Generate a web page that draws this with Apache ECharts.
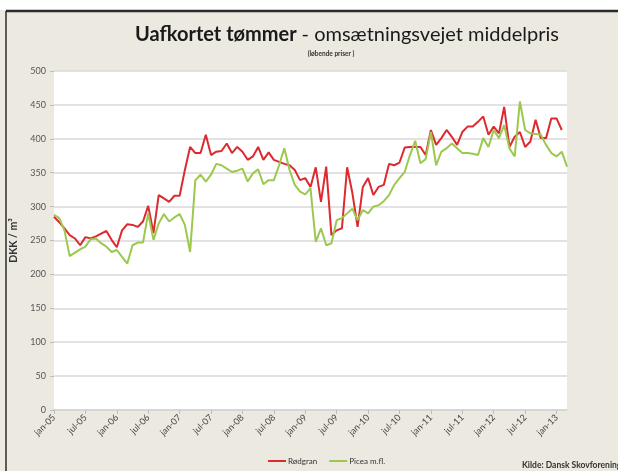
<!DOCTYPE html>
<html>
<head>
<meta charset="utf-8">
<script src="https://cdn.jsdelivr.net/npm/echarts@6/dist/echarts.min.js"></script>
<style>
  html, body { margin: 0; padding: 0; background: #ece9e0; }
  #chart { width: 618px; height: 471px; }
</style>
</head>
<body>
<div id="chart"></div>
<script>
// maanedlige priser, jan-05 .. mar-13
var years = ['05', '06', '07', '08', '09', '10', '11', '12', '13']
var monthNames = ['jan', 'feb', 'mar', 'apr', 'maj', 'jun', 'jul', 'aug', 'sep', 'okt', 'nov', 'dec']
var nMonths = 99

var months = []
for (var i = 0; i < nMonths; i++) {
    months.push(monthNames[i % 12] + '-' + years[Math.floor(i / 12)])
}

var rodgran = [
    285, 277, 268, 258, 253, 243, 255, 253, 256, 260, 264, 251,
    240, 265, 274, 273, 270, 278, 301, 261, 317, 312, 307, 316,
    316, 354, 388, 379, 379, 406, 376, 381, 382, 393, 379, 388,
    381, 369, 374, 388, 369, 380, 369, 366, 363, 361, 354, 339,
    342, 329, 358, 307, 359, 258, 265, 268, 358, 320, 270, 329,
    342, 317, 329, 332, 363, 361, 365, 387, 388, 388, 388, 376,
    413, 391, 401, 413, 403, 391, 410, 418, 418, 425, 433, 406,
    418, 408, 447, 388, 403, 410, 388, 396, 428, 401, 401, 430,
    430, 413, null
]

var picea = [
    288, 283, 265, 227, 232, 237, 241, 252, 253, 246, 241, 233,
    236, 226, 216, 243, 247, 247, 290, 251, 275, 289, 278, 284,
    289, 273, 233, 339, 347, 337, 347, 363, 361, 356, 351, 353,
    356, 337, 349, 355, 333, 339, 339, 361, 386, 354, 332, 322,
    318, 327, 248, 268, 243, 246, 280, 283, 290, 297, 280, 295,
    290, 300, 302, 308, 317, 332, 342, 351, 376, 397, 364, 370,
    410, 361, 381, 386, 393, 386, 379, 379, 378, 376, 401, 388,
    413, 401, 420, 386, 374, 455, 413, 408, 407, 406, 391, 379,
    374, 381, 359
]

var chart = echarts.init(document.getElementById('chart'))
chart.setOption({
    backgroundColor: '#ece9e0',
    color: ['#dc2a30', '#9cc84e'],
    animation: false,
    title: [
        {
            text: '{b|Uafkortet tømmer} {n|- omsætningsvejet middelpris}',
            left: 342,
            textAlign: 'center',
            top: 20,
            textStyle: {
                rich: {
                    b: { fontFamily: 'Lato', fontWeight: 'bold', fontSize: 20, color: '#1a1a1a' },
                    n: { fontFamily: 'Lato', fontWeight: 'normal', fontSize: 20, color: '#1a1a1a' }
                }
            }
        },
        {
            text: '(løbende priser )',
            left: 326,
            textAlign: 'center',
            top: 45,
            textStyle: { fontFamily: 'Lato', fontSize: 6.5, fontWeight: 'bold', color: '#333' }
        }
    ],
    legend: {
        data: ['Rødgran', 'Picea m.fl.'],
        left: 268,
        top: 457,
        icon: 'rect',
        itemWidth: 18,
        itemHeight: 2,
        itemGap: 12,
        padding: 0,
        textStyle: { fontFamily: 'Lato', fontSize: 8, color: '#333', padding: [0, 0, 0, -3] }
    },
    grid: { //plotomraade
        left: 54,
        right: 51,
        top: 71,
        bottom: 61,
        show: true,
        backgroundColor: '#ffffff',
        borderWidth: 0
    },
    xAxis: {
        type: 'category',
        boundaryGap: false,
        data: months,
        axisLine: { lineStyle: { color: '#d4d4d4', width: 1.5 } },
        axisTick: { interval: 5, length: 4, lineStyle: { color: '#bdbdbd' } },
        axisLabel: {
            interval: 5,
            rotate: 45,
            margin: 6,
            fontFamily: 'Lato',
            fontSize: 9,
            color: '#444'
        }
    },
    yAxis: {
        type: 'value',
        min: 0,
        max: 500,
        interval: 50,
        name: 'DKK / m³',
        nameLocation: 'middle',
        nameRotate: 90,
        nameGap: 31,
        nameTextStyle: { fontFamily: 'Lato', fontWeight: 'bold', fontSize: 10.5, color: '#333' },
        axisLine: { show: false },
        axisTick: { show: true, length: 4, lineStyle: { color: '#bdbdbd' } },
        axisLabel: { fontFamily: 'Lato', fontSize: 9, color: '#555', margin: 8 },
        splitLine: { lineStyle: { color: '#d9d9d9', width: 1.5 } }
    },
    graphic: [
        { type: 'rect', shape: { x: 0, y: 0, width: 618, height: 10 }, style: { fill: '#ffffff' } },
        { type: 'line', shape: { x1: 6, y1: 11, x2: 618, y2: 11 }, style: { stroke: '#2b2b2b', lineWidth: 2.5 } },
        { type: 'line', shape: { x1: 6, y1: 11, x2: 6, y2: 471 }, style: { stroke: '#2b2b2b', lineWidth: 1.5 } },
        {
            type: 'text', left: 522, top: 461,
            style: { text: 'Kilde: Dansk Skovforening', fontFamily: 'Lato', fontWeight: 'bold', fontSize: 8.5, fill: '#333' }
        }
    ],
    series: [
        {
            name: 'Rødgran',
            type: 'line',
            data: rodgran,
            symbol: 'none',
            lineStyle: { width: 2 }
        },
        {
            name: 'Picea m.fl.',
            type: 'line',
            data: picea,
            symbol: 'none',
            lineStyle: { width: 2 }
        }
    ]
})
</script>
</body>
</html>
